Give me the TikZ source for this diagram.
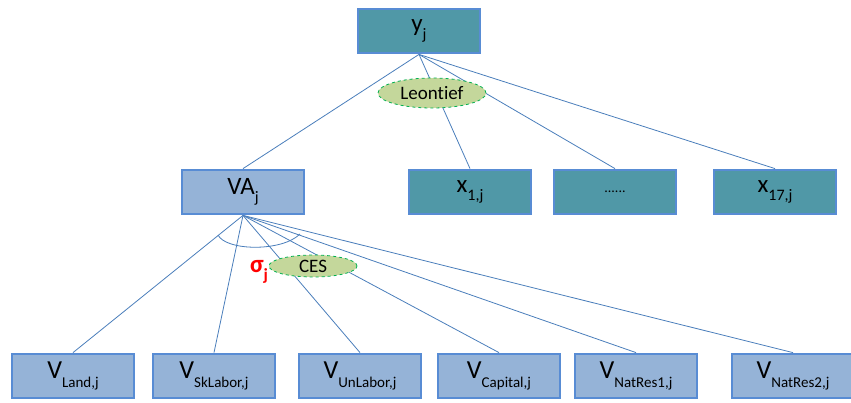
\documentclass[tikz,border=0pt]{standalone}
\usepackage{fontspec}
\setmainfont[Ligatures=NoCommon]{Carlito}
\usetikzlibrary{shapes.geometric,backgrounds}
\definecolor{tealfill}{RGB}{80,152,167}
\definecolor{boxborder}{RGB}{88,140,212}
\definecolor{lightfill}{RGB}{149,179,215}
\definecolor{linecol}{RGB}{74,126,187}
\definecolor{ellfill}{RGB}{196,215,155}
\definecolor{ellborder}{RGB}{0,176,80}
\newcommand\sbs[1]{\raisebox{-0.3em}{\fontsize{16}{16}\selectfont #1}}
\newcommand\sbl[1]{\raisebox{-0.36em}{\fontsize{15}{15}\selectfont #1}}
\tikzset{
  topbox/.style={draw=boxborder, line width=2.8pt, fill=tealfill, minimum width=122pt, minimum height=44pt, inner sep=0pt, font=\fontsize{25}{28}\selectfont},
  lowbox/.style={draw=boxborder, line width=2.8pt, fill=lightfill, minimum width=122pt, minimum height=44pt, inner sep=0pt, font=\fontsize{26}{28}\selectfont},
  ell/.style={ellipse, draw=ellborder, dashed, line width=0.8pt, fill=ellfill, inner sep=0pt},
  conn/.style={draw=linecol, line width=0.8pt}
}
\begin{document}
\begin{tikzpicture}[x=1pt,y=-1pt]
\useasboundingbox (0,0) rectangle (851,402);
% nodes
\node[topbox] (yj) at (419,31) {y\sbs{j}};
\node[lowbox, font=\fontsize{25}{28}\selectfont] (va) at (243,192) {VA\sbs{j}};
\node[topbox] (x1) at (470,192) {x\sbs{1,j}};
\node[topbox] (xd) at (615,192) {\fontsize{14}{14}\selectfont ......};
\node[topbox] (x17) at (775,192) {x\sbs{17,j}};
\node[lowbox] (vl) at (73,376) {V\sbl{Land,j}};
\node[lowbox] (vs) at (214,376) {V\sbl{SkLabor,j}};
\node[lowbox] (vu) at (360,376) {V\sbl{UnLabor,j}};
\node[lowbox] (vc) at (499,376) {V\sbl{Capital,j}};
\node[lowbox] (vn1) at (636,376) {V\sbl{NatRes1,j}};
\node[lowbox] (vn2) at (793,376) {V\sbl{NatRes2,j}};
% connectors behind the boxes
\begin{scope}[on background layer]
\path[conn] (yj.south) -- (va.north);
\path[conn] (yj.south) -- (x1.north);
\path[conn] (yj.south) -- (xd.north);
\path[conn] (yj.south) -- (x17.north);
\foreach \t in {vl,vs,vu,vc,vn1,vn2}{\path[conn] (va.south) -- (\t.north);}
\end{scope}
% arc
\coordinate (arcL) at (218,235);
\coordinate (arcR) at (300,234);
\path[conn] (arcL) .. controls (226,251) and (282,252) .. (arcR);
% ellipses
\node[ell, minimum width=108pt, minimum height=30pt, font=\fontsize{19}{20}\selectfont] (leon) at (432,93) {Leontief};
\node[ell, minimum width=88pt, minimum height=22pt, font=\fontsize{19}{19}\selectfont] (ces) at (313,266) {CES};
\node[text=red, font=\bfseries\fontsize{25}{28}\selectfont, inner sep=0pt] (sig) at (259,272) {σ\raisebox{-0.3em}{\fontsize{17}{17}\selectfont j}};
\end{tikzpicture}
\end{document}
